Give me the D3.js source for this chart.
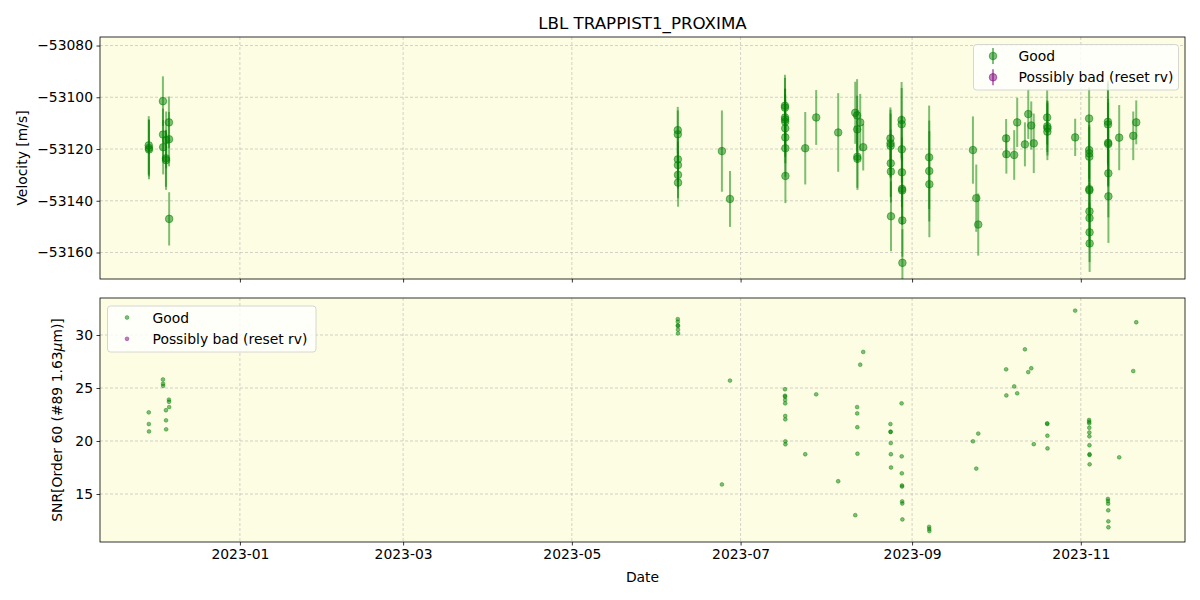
<!DOCTYPE html>
<html>
<head>
<meta charset="utf-8">
<script src="https://cdn.jsdelivr.net/npm/d3@7.9.0/dist/d3.min.js"></script>
<style>
  body { margin: 0; background: #fff; }
  svg { font-family: "DejaVu Sans", sans-serif; }
</style>
</head>
<body>
<svg id="chart" width="1200" height="600"></svg>
<script>
// observation times
const dates = [
  "2022-11-29T01:00","2022-11-29T02:00","2022-11-29T03:00",
  "2022-12-04T04:00","2022-12-04T05:00","2022-12-04T06:00",
  "2022-12-05T06:00","2022-12-05T07:00","2022-12-05T08:00",
  "2022-12-06T08:00","2022-12-06T09:00","2022-12-06T10:00",
  "2023-06-08T07:00","2023-06-08T07:30","2023-06-08T08:00","2023-06-08T08:30","2023-06-08T09:00","2023-06-08T09:30",
  "2023-06-24T06:00","2023-06-27T04:00",
  "2023-07-17T01:00","2023-07-17T01:30","2023-07-17T02:00","2023-07-17T02:30","2023-07-17T03:00",
  "2023-07-17T03:30","2023-07-17T04:00","2023-07-17T04:30","2023-07-17T05:00",
  "2023-07-24T09:00","2023-07-28T08:00","2023-08-05T07:00","2023-08-11T11:00",
  "2023-08-12T03:00","2023-08-12T04:00","2023-08-12T05:00","2023-08-12T06:00",
  "2023-08-13T06:00","2023-08-14T08:00",
  "2023-08-24T04:00","2023-08-24T05:00","2023-08-24T06:00","2023-08-24T07:00","2023-08-24T08:00","2023-08-24T09:00",
  "2023-08-28T05:00","2023-08-28T06:00","2023-08-28T07:00","2023-08-28T08:00",
  "2023-08-28T09:00","2023-08-28T10:00","2023-08-28T11:00","2023-08-28T12:00",
  "2023-09-07T04:00","2023-09-07T05:00","2023-09-07T06:00",
  "2023-09-23T00:00","2023-09-24T05:00","2023-09-24T22:00",
  "2023-10-05T00:00","2023-10-05T02:00","2023-10-07T22:00","2023-10-09T00:00",
  "2023-10-11T19:00","2023-10-13T00:00","2023-10-14T02:00","2023-10-15T00:00",
  "2023-10-19T20:00","2023-10-19T21:00","2023-10-19T22:00","2023-10-19T23:00",
  "2023-10-29T23:00",
  "2023-11-04T00:00","2023-11-04T00:30","2023-11-04T01:00","2023-11-04T01:30","2023-11-04T02:00",
  "2023-11-04T02:30","2023-11-04T03:00","2023-11-04T03:30","2023-11-04T04:00","2023-11-04T04:30",
  "2023-11-10T19:00","2023-11-10T20:00","2023-11-10T21:00","2023-11-10T22:00","2023-11-10T23:00","2023-11-10T23:30",
  "2023-11-14T21:00","2023-11-19T23:00","2023-11-21T01:00"
];

// radial velocity [m/s]
const rv = [
  -53118.6,-53119.6,-53120.2,-53101.5,-53114.4,-53119.3,-53123.6,-53124.3,-53116.5,-53109.7,-53116.2,-53147.0,
  -53112.7,-53114.3,-53124.0,-53126.2,-53130.0,-53133.0,
  -53120.8,-53139.3,
  -53103.3,-53104.0,-53107.8,-53108.6,-53109.5,-53112.0,-53115.5,-53119.7,-53130.4,
  -53119.7,-53107.8,-53113.6,-53106.0,
  -53107.0,-53112.4,-53123.0,-53123.8,
  -53109.7,-53119.3,
  -53115.9,-53117.8,-53118.8,-53125.5,-53128.7,-53146.0,
  -53108.8,-53110.4,-53120.1,-53129.0,-53135.4,-53136.0,-53147.6,-53164.0,
  -53123.2,-53128.5,-53133.6,
  -53120.4,-53139.0,-53149.2,
  -53115.9,-53122.0,-53122.3,-53109.7,-53118.2,-53106.5,-53110.9,-53117.8,
  -53107.8,-53111.2,-53113.3,-53112.0,
  -53115.5,
  -53108.2,-53120.4,-53121.7,-53123.0,-53135.5,-53136.0,-53144.1,-53146.7,-53152.2,-53156.5,
  -53109.5,-53110.5,-53117.6,-53118.1,-53129.4,-53138.3,
  -53115.6,-53114.9,-53109.7
];

const rvErr = [
  11.3,11.0,11.5,9.6,10.0,10.5,11.0,11.5,11.0,10.0,10.5,10.3,
  9.0,9.2,8.8,9.1,9.0,9.3,
  15.7,10.8,
  12.0,11.5,11.0,12.0,10.5,11.0,10.0,11.0,10.5,
  14.0,10.6,15.2,12.0,
  14.0,13.0,12.0,12.0,
  11.0,9.0,
  12.0,13.0,12.5,13.0,12.0,13.5,
  14.7,14.0,13.0,13.5,14.0,13.0,14.0,13.0,
  20.0,19.5,20.5,
  13.0,13.0,12.0,
  7.5,7.5,9.6,9.5,8.5,9.6,9.3,11.5,
  10.5,10.0,11.0,10.5,
  7.2,
  12.0,11.0,11.0,11.5,11.0,11.5,11.0,11.0,11.5,11.0,
  16.0,16.0,17.0,16.0,17.0,18.0,
  12.6,9.4,8.5
];

// SNR in order 60
const snr = [
  22.7,21.6,20.9,25.8,25.4,25.2,22.9,21.95,21.1,23.9,23.7,23.2,
  31.5,31.25,30.9,30.85,30.5,30.15,
  15.9,25.7,
  24.88,24.27,24.18,23.87,23.55,22.36,22.04,19.97,19.69,
  18.75,24.4,16.2,13.0,
  23.2,22.6,21.3,18.8,
  27.2,28.4,
  21.6,20.88,20.85,19.8,18.75,17.5,
  23.55,18.55,16.95,15.8,15.7,14.3,14.1,12.6,
  11.9,11.7,11.5,
  19.97,17.4,20.7,
  26.76,24.3,25.15,24.5,28.65,26.5,26.86,19.7,
  21.67,21.6,20.5,19.3,
  32.3,
  21.98,21.82,21.67,21.25,20.8,20.44,19.6,18.75,18.68,17.8,
  14.53,14.34,14.09,13.46,12.42,11.86,
  18.46,26.6,31.2
];

const velTicks = [-53160, -53140, -53120, -53100, -53080];
const snrTicks = [15, 20, 25, 30];
const dateTicks = ["2023-01-01","2023-03-01","2023-05-01","2023-07-01","2023-09-01","2023-11-01"];
const legendLabels = ["Good", "Possibly bad (reset rv)"];

const parse = d3.timeParse("%Y-%m-%dT%H:%M");
const points = dates.map((d, i) => ({ t: parse(d), rv: rv[i], err: rvErr[i], snr: snr[i] }));

const svg = d3.select('#chart');
const L = 100, R = 1185;
const top1 = 37, bot1 = 279, top2 = 298, bot2 = 542;
const bg = '#fdfde3';
const good = 'green', bad = 'purple';
const fs = '13.9px';

let x = d3.scaleTime()
  .domain([parse("2022-11-11T10:00"), parse("2023-12-08T16:00")])
  .range([L, R]);
let yV = d3.scaleLinear().domain([-53170.24, -53076.7]).range([bot1, top1]);
let yS = d3.scaleLinear().domain([10.47, 33.49]).range([bot2, top2]);

const tickDates = dateTicks.map(d => d3.timeParse("%Y-%m-%d")(d));

function panel(y, yt, y0, y1, id) {
  svg.append('rect').attr('x', L).attr('y', y0).attr('width', R - L).attr('height', y1 - y0).attr('fill', bg);
  const grid = svg.append('g').attr('stroke', '#b0b0b0').attr('stroke-opacity', 0.7)
    .attr('stroke-width', 0.8).attr('stroke-dasharray', '3,2');
  grid.selectAll('.gx').data(tickDates).enter().append('line')
    .attr('x1', d => x(d)).attr('x2', d => x(d)).attr('y1', y0).attr('y2', y1);
  grid.selectAll('.gy').data(yt).enter().append('line')
    .attr('x1', L).attr('x2', R).attr('y1', d => y(d)).attr('y2', d => y(d));
  svg.append('defs').append('clipPath').attr('id', id)
    .append('rect').attr('x', L).attr('y', y0).attr('width', R - L).attr('height', y1 - y0);
}

panel(yV, velTicks, top1, bot1, 'clipTop');
panel(yS, snrTicks, top2, bot2, 'clipBot');

// top: velocity with error bars
const gTop = svg.append('g').attr('clip-path', 'url(#clipTop)');
gTop.selectAll('line.err').data(points).enter().append('line')
  .attr('x1', d => x(d.t)).attr('x2', d => x(d.t))
  .attr('y1', d => yV(d.rv - d.err)).attr('y2', d => yV(d.rv + d.err))
  .attr('stroke', good).attr('stroke-opacity', 0.5).attr('stroke-width', 2);
gTop.selectAll('circle').data(points).enter().append('circle')
  .attr('cx', d => x(d.t)).attr('cy', d => yV(d.rv)).attr('r', 3.8)
  .attr('fill', good).attr('fill-opacity', 0.5)
  .attr('stroke', good).attr('stroke-opacity', 0.5).attr('stroke-width', 1);

// bottom: SNR
const gBot = svg.append('g').attr('clip-path', 'url(#clipBot)');
gBot.selectAll('circle').data(points).enter().append('circle')
  .attr('cx', d => x(d.t)).attr('cy', d => yS(d.snr)).attr('r', 1.9)
  .attr('fill', good).attr('fill-opacity', 0.5)
  .attr('stroke', good).attr('stroke-opacity', 0.5).attr('stroke-width', 0.8);

// axes
function styleAxis(g) {
  g.select('.domain').remove();
  g.selectAll('text').attr('font-size', fs).attr('fill', '#000').attr('font-family', '"DejaVu Sans", sans-serif');
  g.selectAll('line').attr('stroke', '#000').attr('stroke-width', 0.8);
}

svg.append('g').attr('transform', `translate(${L},0)`)
  .call(d3.axisLeft(yV).tickValues(velTicks).tickSize(3.5).tickPadding(3.5).tickFormat(d3.format('d')))
  .call(styleAxis);
svg.append('g').attr('transform', `translate(${L},0)`)
  .call(d3.axisLeft(yS).tickValues(snrTicks).tickSize(3.5).tickPadding(3.5))
  .call(styleAxis);
svg.append('g').attr('transform', `translate(0,${bot1})`)
  .call(d3.axisBottom(x).tickValues(tickDates).tickSize(3.5).tickFormat(''))
  .call(styleAxis);
svg.append('g').attr('transform', `translate(0,${bot2})`)
  .call(d3.axisBottom(x).tickValues(tickDates).tickSize(3.5).tickPadding(3.5).tickFormat(d3.timeFormat('%Y-%m')))
  .call(styleAxis);

// frames
[[top1, bot1], [top2, bot2]].forEach(([a, b]) => {
  svg.append('rect').attr('x', L).attr('y', a).attr('width', R - L).attr('height', b - a)
    .attr('fill', 'none').attr('stroke', '#000').attr('stroke-width', 0.8);
});

// texts
svg.append('text').attr('x', (L + R) / 2).attr('y', 29).attr('text-anchor', 'middle')
  .attr('font-size', '16.7px').text('LBL TRAPPIST1_PROXIMA');
svg.append('text').attr('x', (L + R) / 2).attr('y', 582).attr('text-anchor', 'middle')
  .attr('font-size', fs).text('Date');
svg.append('text').attr('transform', `translate(27,${(top1 + bot1) / 2}) rotate(-90)`)
  .attr('text-anchor', 'middle').attr('font-size', fs).text('Velocity [m/s]');
const snrLab = svg.append('text').attr('transform', `translate(62,${(top2 + bot2) / 2}) rotate(-90)`)
  .attr('text-anchor', 'middle').attr('font-size', fs);
snrLab.append('tspan').text('SNR[Order 60 (#89 1.63');
snrLab.append('tspan').attr('font-style', 'italic').text('μ');
snrLab.append('tspan').text('m)]');

// legends
function legend(x0, y0, w, h, errbar) {
  const g = svg.append('g');
  g.append('rect').attr('x', x0).attr('y', y0).attr('width', w).attr('height', h).attr('rx', 3)
    .attr('fill', '#fff').attr('fill-opacity', 0.8).attr('stroke', '#cccccc').attr('stroke-width', 0.8);
  legendLabels.forEach((lab, i) => {
    const cy = y0 + 11.5 + i * 21.3;
    const c = i === 0 ? good : bad;
    const mx = x0 + 19.5;
    if (errbar) {
      g.append('line').attr('x1', mx).attr('x2', mx).attr('y1', cy - 8).attr('y2', cy + 8)
        .attr('stroke', c).attr('stroke-opacity', 0.5).attr('stroke-width', 2);
      g.append('circle').attr('cx', mx).attr('cy', cy).attr('r', 3.8)
        .attr('fill', c).attr('fill-opacity', 0.5).attr('stroke', c).attr('stroke-opacity', 0.5);
    } else {
      g.append('circle').attr('cx', mx).attr('cy', cy).attr('r', 1.9)
        .attr('fill', c).attr('fill-opacity', 0.5).attr('stroke', c).attr('stroke-opacity', 0.5).attr('stroke-width', 0.8);
    }
    g.append('text').attr('x', x0 + 45).attr('y', cy + 5).attr('font-size', fs).text(lab);
  });
}
legend(973.5, 44.5, 205, 45.5, true);
legend(107.5, 306, 208.5, 46, false);
</script>
</body>
</html>
